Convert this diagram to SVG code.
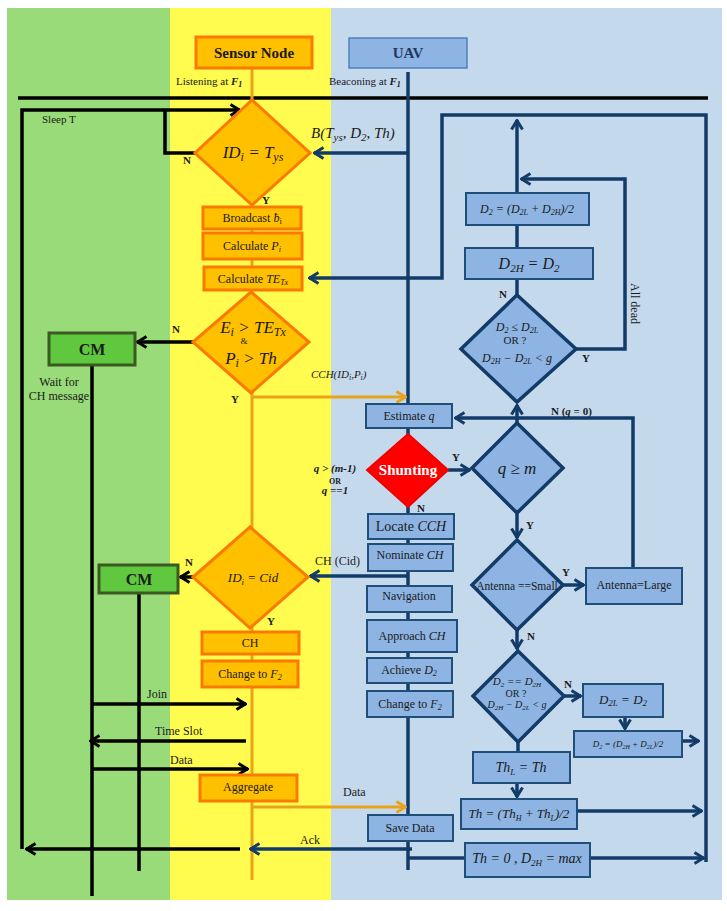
<svg xmlns="http://www.w3.org/2000/svg" width="727" height="911" viewBox="0 0 727 911" font-size="12">
<style>
.t{font-family:"Liberation Serif",serif;fill:#1a1a1a}
.c{text-anchor:middle}
.i{font-style:italic}
.b{font-weight:bold}
.ob{fill:#FFC000;stroke:#FA7A00;stroke-width:3}
.bb{fill:#8DB4E2;stroke:#1F4E79;stroke-width:2}
.bd{fill:#8DB4E2;stroke:#123B68;stroke-width:3.5}
.gb{fill:#5FC83F;stroke:#3A5A22;stroke-width:3}
.k{fill:none;stroke:#000;stroke-width:3.5}
.o{fill:none;stroke:#E9A31A;stroke-width:3}
.n{fill:none;stroke:#123B68;stroke-width:3.5}
</style>
<defs>
<marker id="ak" viewBox="0 0 12 14" refX="11" refY="7" markerWidth="12" markerHeight="14" markerUnits="userSpaceOnUse" orient="auto"><path d="M1.5,1.5 L10.5,7 L1.5,12.5" fill="none" stroke="#000" stroke-width="3"/></marker>
<marker id="ao" viewBox="0 0 12 14" refX="11" refY="7" markerWidth="12" markerHeight="14" markerUnits="userSpaceOnUse" orient="auto"><path d="M1.5,1.5 L10.5,7 L1.5,12.5" fill="none" stroke="#E9A31A" stroke-width="3"/></marker>
<marker id="an" viewBox="0 0 12 14" refX="11" refY="7" markerWidth="12" markerHeight="14" markerUnits="userSpaceOnUse" orient="auto"><path d="M1.5,1.5 L10.5,7 L1.5,12.5" fill="none" stroke="#123B68" stroke-width="3"/></marker>
</defs>

<g id="lanes">
<rect x="7" y="8" width="163" height="892" fill="#98DB78"/>
<rect x="170" y="8" width="161" height="892" fill="#FFFC4F"/>
<rect x="331" y="8" width="391" height="892" fill="#C5D9ED"/>
</g>

<g id="connectors">
<path class="k" d="M18,98 H708" stroke-width="4.5"/>
<path class="o" d="M252,68 V880"/>
<path class="n" d="M408,72 V870"/>
<path class="k" d="M22,849 V110 H240" marker-end="url(#ak)"/>
<path class="k" d="M195,153 H165 V110"/>
<path class="k" d="M240,849 H26" marker-end="url(#ak)"/>
<path class="k" d="M193,342 H137" marker-end="url(#ak)"/>
<path class="k" d="M92,365 V896"/>
<path class="k" d="M193,577 H180" marker-end="url(#ak)"/>
<path class="k" d="M139,593 V871"/>
<path class="k" d="M92,704 H246" marker-end="url(#ak)"/>
<path class="k" d="M246,741 H90" marker-end="url(#ak)"/>
<path class="k" d="M92,769 H248" marker-end="url(#ak)"/>
<path class="o" d="M252,397 H406" marker-end="url(#ao)"/>
<path class="o" d="M252,807 H406" marker-end="url(#ao)"/>
<path class="n" d="M408,153 H314" marker-end="url(#an)"/>
<path class="n" d="M706,862 V115 H442 V278 H309" marker-end="url(#an)"/>
<path class="n" d="M517,193 V120" marker-end="url(#an)"/>
<path class="n" d="M517,225 V248"/>
<path class="n" d="M517,279 V296"/>
<path class="n" d="M576,349 H625 V179 H521" marker-end="url(#an)"/>
<path class="n" d="M517,423 V405" marker-end="url(#an)"/>
<path class="n" d="M633,568 V418 H455" marker-end="url(#an)"/>
<path class="n" d="M448,470 H470" marker-end="url(#an)"/>
<path class="n" d="M517,513 V538" marker-end="url(#an)"/>
<path class="n" d="M563,585 H584" marker-end="url(#an)"/>
<path class="n" d="M517,630 V649" marker-end="url(#an)"/>
<path class="n" d="M564,696 H581" marker-end="url(#an)"/>
<path class="n" d="M625,717 V729" marker-end="url(#an)"/>
<path class="n" d="M682,741 H699" marker-end="url(#an)"/>
<path class="n" d="M518,742 V752"/>
<path class="n" d="M517,783 V797" marker-end="url(#an)"/>
<path class="n" d="M577,811 H702" marker-end="url(#an)"/>
<path class="n" d="M408,858 H704" marker-end="url(#an)"/>
<path class="n" d="M408,576 H310" marker-end="url(#an)"/>
<path class="n" d="M412,849 H250" marker-end="url(#an)"/>
</g>

<g id="labels">
<text class="t" x="176" y="85" font-size="11">Listening at <tspan class="i b">F</tspan><tspan class="i b" font-size="8" dy="2">1</tspan></text>
<text class="t" x="329" y="85" font-size="11">Beaconing at <tspan class="i b">F</tspan><tspan class="i b" font-size="8" dy="2">1</tspan></text>
<text class="t" x="42" y="123" font-size="11">Sleep T</text>
<text class="t i" x="311" y="138" font-size="15">B(T<tspan font-size="11" dy="3">ys</tspan><tspan dy="-3">, D</tspan><tspan font-size="11" dy="3">2</tspan><tspan dy="-3">, Th)</tspan></text>
<text class="t c" x="59" y="386">Wait for</text>
<text class="t c" x="59" y="400">CH message</text>
<text class="t i" x="311" y="378" font-size="11">CCH(ID<tspan font-size="8" dy="2">i</tspan><tspan dy="-2">,P</tspan><tspan font-size="8" dy="2">i</tspan><tspan dy="-2">)</tspan></text>
<text class="t" x="315" y="565">CH (Cid)</text>
<text class="t c b i" x="335" y="472" font-size="11">q &gt; (m-1)</text>
<text class="t c b" x="335" y="483.5" font-size="8">OR</text>
<text class="t c b i" x="335" y="494" font-size="11">q ==1</text>
<text class="t" x="147" y="698">Join</text>
<text class="t" x="155" y="735">Time Slot</text>
<text class="t" x="170" y="764">Data</text>
<text class="t" x="343" y="796">Data</text>
<text class="t" x="300" y="844">Ack</text>
<text class="t" transform="translate(631,283) rotate(90)">All dead</text>
<text class="t b" x="183" y="164" font-size="11">N</text>
<text class="t b" x="262" y="204" font-size="11">Y</text>
<text class="t b" x="172" y="333" font-size="11">N</text>
<text class="t b" x="231" y="403" font-size="11">Y</text>
<text class="t b" x="185" y="566" font-size="11">N</text>
<text class="t b" x="267" y="625" font-size="11">Y</text>
<text class="t b" x="499" y="298" font-size="11">N</text>
<text class="t b" x="582" y="362" font-size="11">Y</text>
<text class="t b" x="551" y="415" font-size="11">N (<tspan class="i">q</tspan> = 0)</text>
<text class="t b" x="452" y="461" font-size="11">Y</text>
<text class="t b" x="417" y="512" font-size="11">N</text>
<text class="t b" x="526" y="529" font-size="11">Y</text>
<text class="t b" x="562" y="576" font-size="11">Y</text>
<text class="t b" x="527" y="640" font-size="11">N</text>
<text class="t b" x="564" y="688" font-size="11">N</text>
</g>

<g id="sensor-node"><rect class="ob" x="196" y="37" width="116" height="31"/><text class="t c b" x="254" y="58" font-size="15">Sensor Node</text></g>
<g id="uav"><rect x="349" y="38" width="118" height="30" fill="#8DB4E2" stroke="#4F81BD" stroke-width="1.5"/><text class="t c b" x="408" y="58" font-size="15" style="fill:#1F3864">UAV</text></g>

<g id="d-id-tys"><polygon class="ob" points="252,100 310,153 252,205 195,153"/><text class="t c i" x="253" y="158" font-size="17">ID<tspan font-size="12" dy="3">i</tspan><tspan dy="-3"> = T</tspan><tspan font-size="12" dy="3">ys</tspan></text></g>
<g id="broadcast"><rect class="ob" x="203" y="207" width="98" height="22"/><text class="t c" x="252" y="222">Broadcast <tspan class="i">ƀ</tspan><tspan font-size="8" dy="2">i</tspan></text></g>
<g id="calc-p"><rect class="ob" x="203" y="233" width="99" height="26"/><text class="t c" x="252" y="250">Calculate <tspan class="i">P</tspan><tspan class="i" font-size="8" dy="2">i</tspan></text></g>
<g id="calc-te"><rect class="ob" x="204" y="267" width="98" height="23"/><text class="t c" x="253" y="283">Calculate <tspan class="i">TE</tspan><tspan class="i" font-size="8" dy="2">Tx</tspan></text></g>
<g id="d-energy"><polygon class="ob" points="251,292 309,342 251,393 193,342"/>
<text class="t c i" x="253" y="333" font-size="17">E<tspan font-size="12" dy="3">i</tspan><tspan dy="-3"> &gt; TE</tspan><tspan font-size="12" dy="3">Tx</tspan></text>
<text class="t c" x="244" y="344" font-size="9">&amp;</text>
<text class="t c i" x="251" y="364" font-size="17">P<tspan font-size="12" dy="3">i</tspan><tspan dy="-3"> &gt; Th</tspan></text></g>
<g id="cm1"><rect class="gb" x="49" y="333" width="86" height="32"/><text class="t c b" x="92" y="355" font-size="16">CM</text></g>
<g id="d-cid"><polygon class="ob" points="250,527 308,577 250,628 193,577"/><text class="t c i" x="253" y="582" font-size="13">ID<tspan font-size="9" dy="3">i</tspan><tspan dy="-3"> = Cid</tspan></text></g>
<g id="cm2"><rect class="gb" x="99" y="565" width="79" height="28"/><text class="t c b" x="139" y="585" font-size="16">CM</text></g>
<g id="ch"><rect class="ob" x="202" y="632" width="97" height="22"/><text class="t c" x="250" y="647">CH</text></g>
<g id="change-f2-s"><rect class="ob" x="202" y="661" width="96" height="26"/><text class="t c" x="250" y="678">Change to <tspan class="i">F</tspan><tspan class="i" font-size="8" dy="2">2</tspan></text></g>
<g id="aggregate"><rect class="ob" x="200" y="775" width="97" height="26"/><text class="t c" x="248" y="791">Aggregate</text></g>

<g id="d2-mid"><rect class="bb" x="466" y="193" width="123" height="32"/><text class="t c i" x="527" y="213" font-size="12">D<tspan font-size="8" dy="2">2</tspan><tspan dy="-2"> = (D</tspan><tspan font-size="8" dy="2">2L</tspan><tspan dy="-2"> + D</tspan><tspan font-size="8" dy="2">2H</tspan><tspan dy="-2">)/2</tspan></text></g>
<g id="d2h-set"><rect class="bb" x="465" y="248" width="128" height="31"/><text class="t c i" x="529" y="269" font-size="16">D<tspan font-size="11" dy="3">2H</tspan><tspan dy="-3"> = D</tspan><tspan font-size="11" dy="3">2</tspan></text></g>
<g id="d-d2l"><polygon class="bd" points="517,295 576,349 517,402 461,349"/>
<text class="t c i" x="517" y="331" font-size="12">D<tspan font-size="8" dy="2">2</tspan><tspan dy="-2"> ≤ D</tspan><tspan font-size="8" dy="2">2L</tspan></text>
<text class="t c" x="515" y="344" font-size="11">OR  ?</text>
<text class="t c i" x="517" y="362" font-size="12">D<tspan font-size="8" dy="2">2H</tspan><tspan dy="-2"> − D</tspan><tspan font-size="8" dy="2">2L</tspan><tspan dy="-2"> &lt; g</tspan></text></g>
<g id="estimate-q"><rect class="bb" x="366" y="404" width="86" height="24"/><text class="t c" x="409" y="420">Estimate <tspan class="i">q</tspan></text></g>
<g id="shunting"><polygon points="408,434 448,470 408,507 367,470" fill="#FF0000" stroke="#F00000" stroke-width="2"/><text class="t c b" x="408" y="475" font-size="15" style="fill:#fff">Shunting</text></g>
<g id="d-qm"><polygon class="bd" points="517,423 563,468 517,513 472,468"/><text class="t c i" x="517" y="474" font-size="17">q ≥ m</text></g>
<g id="locate"><rect class="bb" x="368" y="514" width="86" height="25"/><text class="t c" x="411" y="531" font-size="14">Locate <tspan class="i">CCH</tspan></text></g>
<g id="nominate"><rect class="bb" x="368" y="544" width="85" height="27"/><text class="t c" x="410" y="559">Nominate <tspan class="i">CH</tspan></text></g>
<g id="navigation"><rect class="bb" x="367" y="586" width="85" height="26"/><text class="t c" x="409" y="600">Navigation</text></g>
<g id="approach"><rect class="bb" x="367" y="620" width="90" height="32"/><text class="t c" x="412" y="640">Approach <tspan class="i">CH</tspan></text></g>
<g id="achieve"><rect class="bb" x="367" y="658" width="85" height="25"/><text class="t c" x="409" y="674">Achieve <tspan class="i">D</tspan><tspan class="i" font-size="8" dy="2">2</tspan></text></g>
<g id="change-f2-u"><rect class="bb" x="367" y="691" width="86" height="26"/><text class="t c" x="410" y="708">Change to <tspan class="i">F</tspan><tspan class="i" font-size="8" dy="2">2</tspan></text></g>
<g id="save-data"><rect class="bb" x="368" y="815" width="85" height="26"/><text class="t c" x="410" y="832">Save Data</text></g>
<g id="d-antenna"><polygon class="bd" points="517,540 563,585 517,630 472,585"/><text class="t c" x="517" y="590" font-size="11.5">Antenna ==Small</text></g>
<g id="antenna-large"><rect class="bb" x="586" y="568" width="96" height="36"/><text class="t c" x="634" y="589">Antenna=Large</text></g>
<g id="d-d2h"><polygon class="bd" points="518,651 564,696 518,742 473,696"/>
<text class="t c i" x="517" y="685" font-size="11">D<tspan font-size="7" dy="2">2</tspan><tspan dy="-2"> == D</tspan><tspan font-size="7" dy="2">2H</tspan></text>
<text class="t c" x="516" y="697" font-size="10">OR  ?</text>
<text class="t c i" x="517" y="708" font-size="10">D<tspan font-size="7" dy="2">2H</tspan><tspan dy="-2"> − D</tspan><tspan font-size="7" dy="2">2L</tspan><tspan dy="-2"> &lt; g</tspan></text></g>
<g id="d2l-set"><rect class="bb" x="583" y="684" width="80" height="33"/><text class="t c i" x="623" y="704" font-size="13">D<tspan font-size="9" dy="2">2L</tspan><tspan dy="-2"> = D</tspan><tspan font-size="9" dy="2">2</tspan></text></g>
<g id="d2-avg"><rect class="bb" x="574" y="731" width="108" height="26"/><text class="t c i" x="628" y="747" font-size="9">D<tspan font-size="6" dy="2">2</tspan><tspan dy="-2"> = (D</tspan><tspan font-size="6" dy="2">2H</tspan><tspan dy="-2"> + D</tspan><tspan font-size="6" dy="2">2L</tspan><tspan dy="-2">)/2</tspan></text></g>
<g id="thl-set"><rect class="bb" x="473" y="752" width="97" height="31"/><text class="t c i" x="521" y="772" font-size="14">Th<tspan font-size="9" dy="3">L</tspan><tspan dy="-3"> = Th</tspan></text></g>
<g id="th-avg"><rect class="bb" x="461" y="799" width="116" height="30"/><text class="t c i" x="519" y="818" font-size="13">Th = (Th<tspan font-size="8" dy="3">H</tspan><tspan dy="-3"> + Th</tspan><tspan font-size="8" dy="3">L</tspan><tspan dy="-3">)/2</tspan></text></g>
<g id="th-zero"><rect class="bb" x="465" y="843" width="125" height="34"/><text class="t c i" x="527" y="863" font-size="14">Th = 0  , D<tspan font-size="9" dy="3">2H</tspan><tspan dy="-3"> = max</tspan></text></g>
</svg>
